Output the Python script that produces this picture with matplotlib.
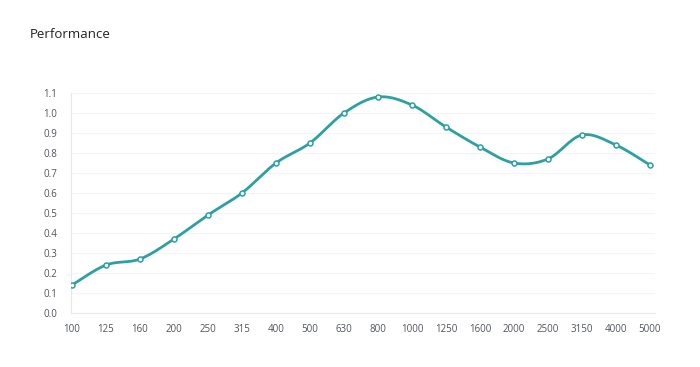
import numpy as np
import matplotlib
matplotlib.use("Agg")
import matplotlib.pyplot as plt

categories = ["100", "125", "160", "200", "250", "315", "400", "500", "630", "800",
              "1000", "1250", "1600", "2000", "2500", "3150", "4000", "5000"]
values = [0.14, 0.24, 0.27, 0.37, 0.49, 0.60, 0.75, 0.85, 1.00, 1.08,
          1.04, 0.93, 0.83, 0.75, 0.77, 0.89, 0.84, 0.74]
yticks = [0.0, 0.1, 0.2, 0.3, 0.4, 0.5, 0.6, 0.7, 0.8, 0.9, 1.0, 1.1]

plt.rcParams['font.family'] = ['Open Sans', 'DejaVu Sans']

def smooth(x, y, n=40, t=1.0):
    # Catmull-Rom smoothing for drawing the curve through the points
    x = np.asarray(x, float); y = np.asarray(y, float)
    xs, ys = [], []
    for i in range(len(x) - 1):
        p0 = (x[max(i-1, 0)], y[max(i-1, 0)])
        p1 = (x[i], y[i]); p2 = (x[i+1], y[i+1])
        p3 = (x[min(i+2, len(x)-1)], y[min(i+2, len(x)-1)])
        m1 = ((p2[0]-p0[0]) * t / 2, (p2[1]-p0[1]) * t / 2)
        m2 = ((p3[0]-p1[0]) * t / 2, (p3[1]-p1[1]) * t / 2)
        s = np.linspace(0, 1, n, endpoint=(i == len(x) - 2))
        h00 = 2*s**3 - 3*s**2 + 1; h10 = s**3 - 2*s**2 + s
        h01 = -2*s**3 + 3*s**2; h11 = s**3 - s**2
        xs.append(h00*p1[0] + h10*m1[0] + h01*p2[0] + h11*m2[0])
        ys.append(h00*p1[1] + h10*m1[1] + h01*p2[1] + h11*m2[1])
    return np.concatenate(xs), np.concatenate(ys)

fig = plt.figure(figsize=(7, 3.67), dpi=100)
ax = fig.add_axes([71/700, 1-313/367, (655-71)/700, (313-93)/367])

xi = np.arange(len(categories))
sx, sy = smooth(xi, values)
color = "#2ea0a2"
ax.plot(sx, sy, color=color, lw=2, zorder=3, solid_capstyle='round')
ax.plot(xi, values, 'o', ms=3.6, mfc="white", mec=color, mew=1.1, zorder=4)

ax.set_xlim(-0.03, len(categories) - 1 + 0.15)
ax.set_ylim(0, 1.1)
ax.set_xticks(xi)
ax.set_xticklabels(categories)
ax.set_yticks(yticks)
ax.set_yticklabels([f"{v:.1f}" for v in yticks])
ax.tick_params(axis='both', length=0, labelsize=7, labelcolor="#50555c")
ax.tick_params(axis='x', pad=8)
ax.tick_params(axis='y', pad=10)
for sp in ["top", "right"]:
    ax.spines[sp].set_visible(False)
for sp in ["left", "bottom"]:
    ax.spines[sp].set_color("#e6e9ec")
    ax.spines[sp].set_linewidth(0.8)
ax.grid(axis='y', color="#f3f4f6", lw=0.8)
ax.set_axisbelow(True)

fig.text(30/700, 1-34/367, "Performance", fontsize=9.5, color="#222222", va="center", ha="left")

fig.savefig("out.png", dpi=100, facecolor="white")
